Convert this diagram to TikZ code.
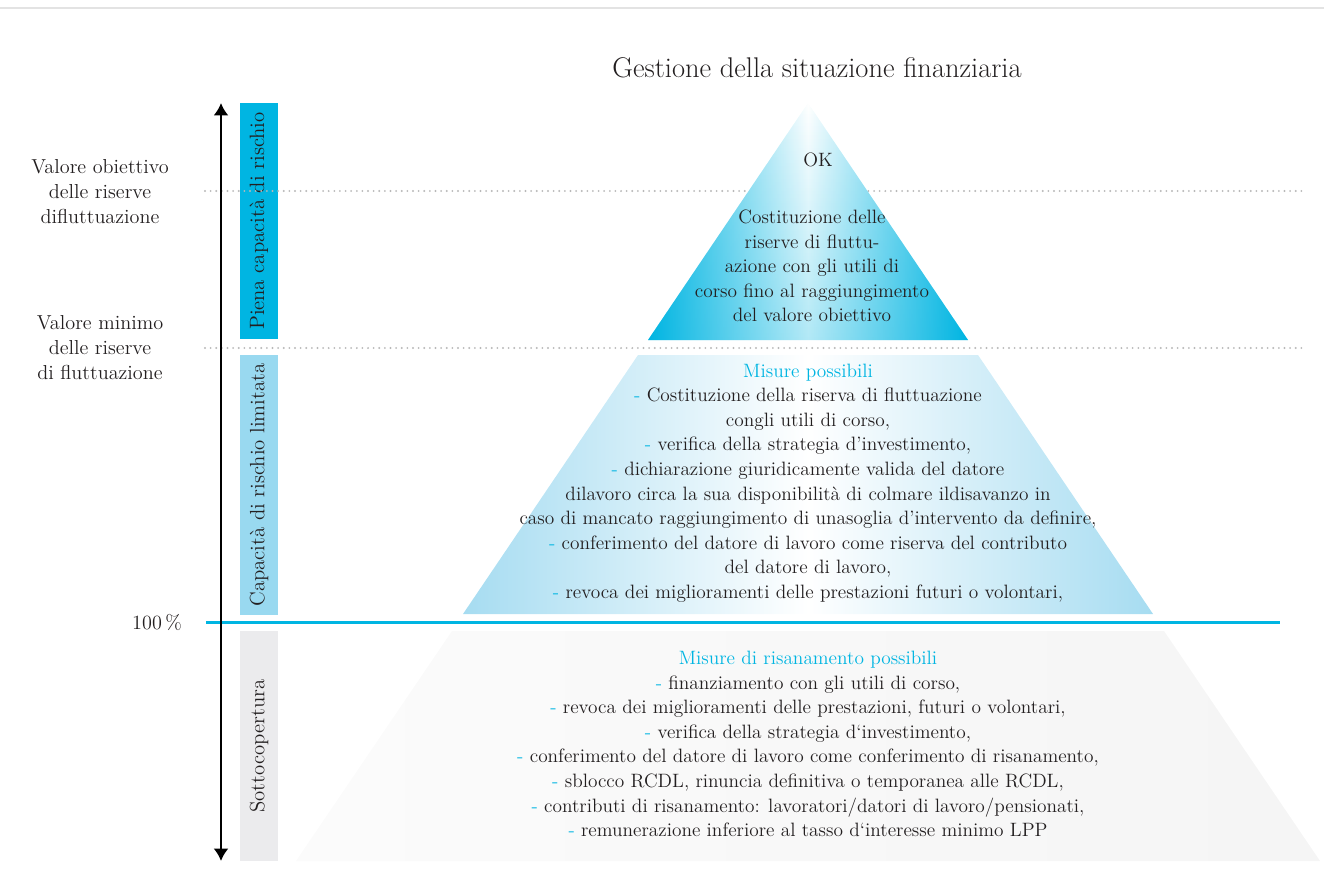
\documentclass[tikz,border=0pt]{standalone}
\usetikzlibrary{arrows,arrows.meta,positioning,fadings}
\definecolor{pcyan}{HTML}{00B5E2}
\definecolor{plight}{HTML}{99D9F0}
\definecolor{pmid}{HTML}{A6DCF1}
\definecolor{pgray}{HTML}{EBEBED}
\definecolor{ptext}{HTML}{231F20}
\definecolor{pdot}{HTML}{B8B8B8}

\begin{document}
\begin{tikzpicture}
[x=0.02cm,y=-0.02cm, font=\fontsize{11}{14}\selectfont, text=ptext,
    lab/.style={align=center,text=ptext,inner sep=1pt},
    side/.style={align=center,text=ptext,inner sep=1pt,font=\fontsize{11.5}{14.2}\selectfont},
    bar/.style={rotate=90,minimum height=0.76cm,inner sep=0pt,font=\fontsize{11.8}{14}\selectfont},
    lim/.style={pdot,line width=1.2pt,line cap=round,dash pattern=on 0pt off 3.2pt},
    rule/.style={line width=1.7pt},
    myarrow/.style={>={Latex[length=7pt,width=8.5pt]}, line width=1.6pt, <->}]
\useasboundingbox (0,0) rectangle (1324,892);
\def\dsh{{\color{pcyan}-} }
%%%%%%%%%%
%% top rule and title
\coordinate (ra) at (0,8);
\coordinate (rb) at (1324,8);
\draw[rule,gray!22] (ra) -- (rb);
\node (tit) [font=\fontsize{16.2}{18}\selectfont] at (817,68) {Gestione della situazione finanziaria};
%% bars
\node (b1) [bar,fill=pcyan,minimum width=4.74cm] at (259,221) {Piena capacità di rischio};
\node (b2) [bar,fill=plight,minimum width=5.2cm] at (259,485) {Capacità di rischio limitata};
\node (b3) [bar,fill=pgray,minimum width=4.6cm] at (259,746) {Sottocopertura};
%% limits
\coordinate (l1a) at (205,191);
\coordinate (l1b) at (1305,191);
\coordinate (l2a) at (205,348);
\coordinate (l2b) at (1305,348);
\draw[lim] (l1a) -- (l1b);
\draw[lim] (l2a) -- (l2b);
%% pyramid
\coordinate (p0) at (808,103);
\shade[left color=pcyan,right color=pcyan,middle color=white] (p0) -- (968,340) -- (648,340) -- cycle;
\fill[pcyan,fill opacity=.3,path fading=north] (p0) -- (968,340) -- (648,340) -- cycle;
\shade[left color=pmid,right color=pmid,middle color=white] (638,355) -- (978,355) -- (1153,614) -- (463,614) -- cycle;
\shade[left color=gray!3,right color=gray!8] (452,631) -- (1164,631) -- (1320,861) -- (296,861) -- cycle;
%% 100 % line and arrow
\coordinate (c1) at (206,622);
\coordinate (c2) at (1280,622);
\draw[rule,pcyan] (c1) -- (c2);
\coordinate (at) at (221,103);
\coordinate (ab) at (221,861);
\draw[myarrow] (at) -- (ab);
%% left labels
\node (vo) [side] at (100,192) {Valore obiettivo\\delle riserve\\difluttuazione};
\node (vm) [side] at (100,348) {Valore minimo\\delle riserve\\di fluttuazione};
\node (pc) [side] at (157,622) {100\,\%};
%% texts in the pyramid
\node (ok) [lab] at (818,160) {OK};
\node (t1) [lab] at (812,266) {Costituzione delle\\riserve di fluttu-\\azione con gli utili di\\corso fino al raggiungimento\\del valore obiettivo};
\node (t2) [lab] at (808,483) {{\color{pcyan}Misure possibili}\\
\dsh Costituzione della riserva di fluttuazione\\
congli utili di corso,\\
\dsh verifica della strategia d’investimento,\\
\dsh dichiarazione giuridicamente valida del datore\\
dilavoro circa la sua disponibilità di colmare ildisavanzo in\\
caso di mancato raggiungimento di unasoglia d’intervento da definire,\\
\dsh conferimento del datore di lavoro come riserva del contributo\\
del datore di lavoro,\\
\dsh revoca dei miglioramenti delle prestazioni futuri o volontari,};
\node (t3) [lab] at (808,744) {{\color{pcyan}Misure di risanamento possibili}\\
\dsh finanziamento con gli utili di corso,\\
\dsh revoca dei miglioramenti delle prestazioni, futuri o volontari,\\
\dsh verifica della strategia d‘investimento,\\
\dsh conferimento del datore di lavoro come conferimento di risanamento,\\
\dsh sblocco RCDL, rinuncia definitiva o temporanea alle RCDL,\\
\dsh contributi di risanamento: lavoratori/datori di lavoro/pensionati,\\
\dsh remunerazione inferiore al tasso d‘interesse minimo LPP};
%%
\end{tikzpicture}
\end{document}
